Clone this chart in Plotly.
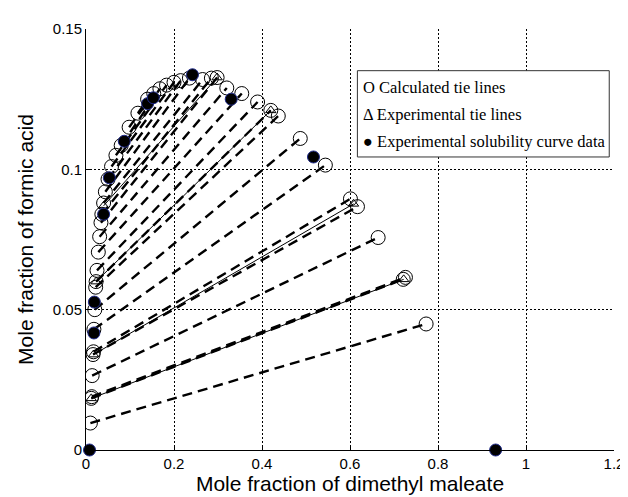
import plotly.graph_objects as go

# Calculated tie lines (raffinate end -> extract end)
calc_raff_x = [0.010, 0.012, 0.013, 0.014, 0.016, 0.017, 0.018, 0.020, 0.022, 0.023, 0.025, 0.028, 0.031, 0.034, 0.036, 0.040, 0.044, 0.050, 0.058, 0.068, 0.080, 0.098, 0.118]
calc_raff_y = [0.0096, 0.0184, 0.0190, 0.0265, 0.0340, 0.0350, 0.0430, 0.0500, 0.0580, 0.0600, 0.0640, 0.0705, 0.0760, 0.0810, 0.0840, 0.0880, 0.0920, 0.0965, 0.1010, 0.1050, 0.1085, 0.1150, 0.1200]
calc_ext_x = [0.773, 0.721, 0.726, 0.664, 0.617, 0.601, 0.544, 0.487, 0.437, 0.420, 0.390, 0.354, 0.320, 0.298, 0.285, 0.265, 0.235, 0.215, 0.200, 0.183, 0.168, 0.154, 0.140]
calc_ext_y = [0.0449, 0.0608, 0.0615, 0.0757, 0.0867, 0.0895, 0.1015, 0.1110, 0.1190, 0.1210, 0.1240, 0.1270, 0.1290, 0.1327, 0.1325, 0.1320, 0.1325, 0.1316, 0.1310, 0.1300, 0.1287, 0.1270, 0.1250]

# Experimental tie lines
exp_raff_x = [0.012, 0.017, 0.023, 0.040]
exp_raff_y = [0.0184, 0.0340, 0.0600, 0.0870]
exp_ext_x = [0.722, 0.608, 0.420, 0.298]
exp_ext_y = [0.0608, 0.0877, 0.1210, 0.1327]

# Experimental solubility curve data
sol_x = [0.008, 0.018, 0.019, 0.040, 0.053, 0.087, 0.140, 0.153, 0.242, 0.330, 0.517, 0.931]
sol_y = [0.0, 0.0417, 0.0527, 0.0840, 0.0970, 0.1100, 0.1234, 0.1255, 0.1337, 0.1250, 0.1044, 0.0]

x_ticks = [0, 0.2, 0.4, 0.6, 0.8, 1.0, 1.2]
x_tick_labels = ["0", "0.2", "0.4", "0.6", "0.8", "1", "1.2"]
y_ticks = [0, 0.05, 0.1, 0.15]
y_tick_labels = ["0", "0.05", "0.1", "0.15"]

legend_lines = ["O Calculated tie lines", "Δ Experimental tie lines", "● Experimental solubility curve data"]

fig = go.Figure()

def seg(xa, ya, xb, yb):
    xs, ys = [], []
    for a, b, c, d in zip(xa, ya, xb, yb):
        xs += [a, c, None]
        ys += [b, d, None]
    return xs, ys

cx, cy = seg(calc_raff_x, calc_raff_y, calc_ext_x, calc_ext_y)
fig.add_trace(go.Scatter(x=cx, y=cy, mode="lines",
                         line=dict(color="black", width=2.4, dash="10px,6px"),
                         hoverinfo="skip", showlegend=False))
ex, ey = seg(exp_raff_x, exp_raff_y, exp_ext_x, exp_ext_y)
fig.add_trace(go.Scatter(x=ex, y=ey, mode="lines",
                         line=dict(color="black", width=1),
                         hoverinfo="skip", showlegend=False))

fig.add_trace(go.Scatter(x=calc_raff_x + calc_ext_x, y=calc_raff_y + calc_ext_y, mode="markers",
                         marker=dict(symbol="circle-open", size=14, color="black", line=dict(width=1)),
                         showlegend=False))
fig.add_trace(go.Scatter(x=exp_raff_x + exp_ext_x, y=exp_raff_y + exp_ext_y, mode="markers",
                         marker=dict(symbol="triangle-up-open", size=9, color="black", line=dict(width=1)),
                         showlegend=False))
fig.add_trace(go.Scatter(x=sol_x, y=sol_y, mode="markers",
                         marker=dict(symbol="circle", size=12, color="black", line=dict(width=1, color="#1f2a8a")),
                         showlegend=False, cliponaxis=False))

axis_common = dict(showgrid=True, gridcolor="black", griddash="2px,2px", gridwidth=1,
                   zeroline=False, ticks="inside", ticklen=4, tickcolor="black",
                   ticklabeloverflow="allow",
                   tickfont=dict(family="Liberation Sans, Arial", size=15, color="black"),
                   showline=True, linecolor="black", linewidth=1, mirror=False)

fig.update_xaxes(range=[0, 1.2], tickvals=x_ticks, ticktext=x_tick_labels,
                 title=dict(text="Mole fraction of dimethyl maleate", standoff=3,
                            font=dict(family="Liberation Sans, Arial", size=21, color="black")),
                 **axis_common)
fig.update_yaxes(range=[0, 0.15], tickvals=y_ticks, ticktext=y_tick_labels,
                 title=dict(text="Mole fraction of formic acid", standoff=13,
                            font=dict(family="Liberation Sans, Arial", size=21, color="black")),
                 **axis_common)

# Legend box
fig.add_shape(type="rect", xref="paper", yref="paper", x0=0.514, x1=0.991, y0=0.696, y1=0.901,
              line=dict(color="#333333", width=1), fillcolor="white", layer="above")
for i, t in enumerate(legend_lines):
    fig.add_annotation(xref="paper", yref="paper", x=0.521, y=0.861 - i * 0.064, text=t,
                       showarrow=False, xanchor="left", yanchor="middle",
                       font=dict(family="Liberation Serif, Times New Roman", size=16.5, color="black"))

fig.update_layout(width=628, height=497, margin=dict(l=78, r=13, t=17, b=55),
                  paper_bgcolor="white", plot_bgcolor="white", showlegend=False)

fig.write_html("out.html")
